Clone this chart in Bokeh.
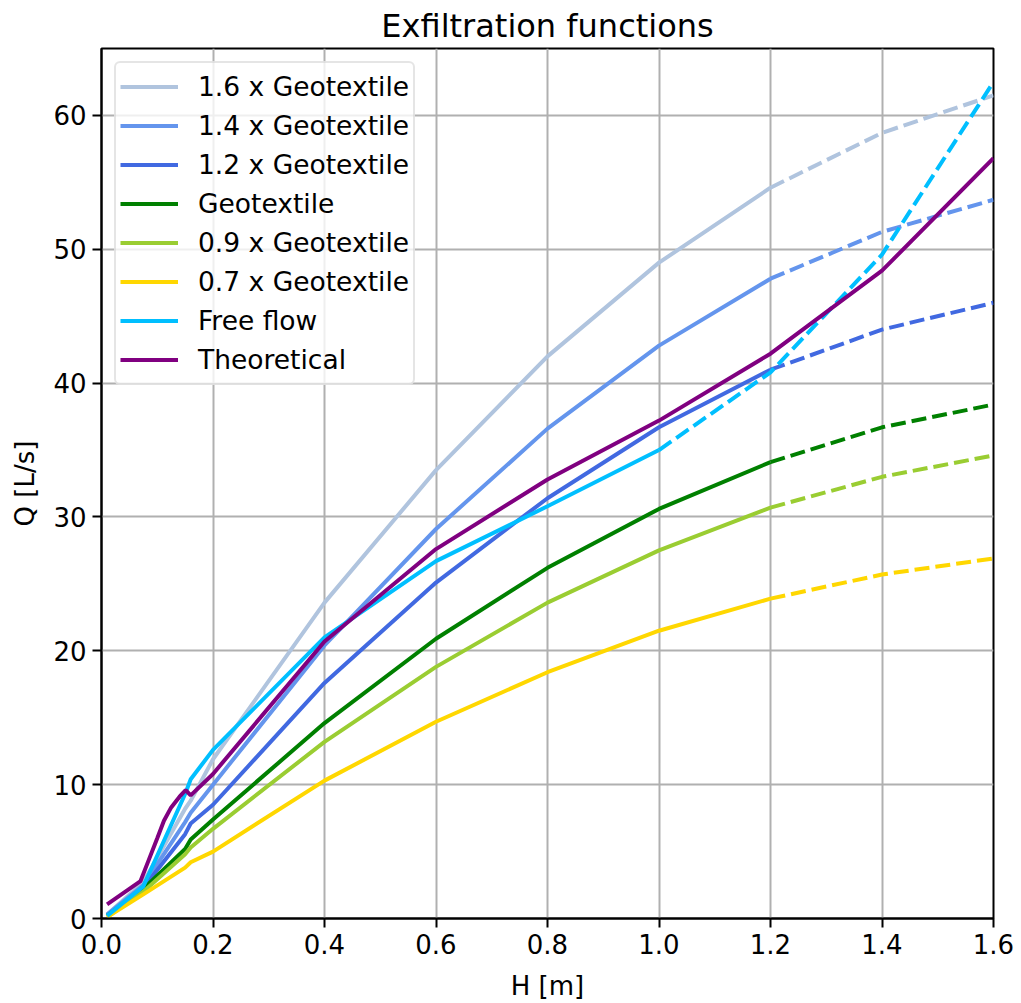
from bokeh.plotting import figure
from bokeh.models import Legend, LegendItem, FixedTicker, NumeralTickFormatter, Range1d
from bokeh.embed import file_html
from bokeh.resources import INLINE

# ---- data ----
H_meas = [0.01, 0.075, 0.15, 0.16, 0.2, 0.4, 0.6, 0.8, 1.0, 1.2, 1.4, 1.6]

Q_geo_1_6 = [0.3, 2.7, 8.2, 8.8, 11.9, 23.6, 33.5, 42.0, 49.0, 54.6, 58.7, 61.5]
Q_geo_1_4 = [0.3, 2.5, 7.2, 7.9, 10.0, 20.4, 29.1, 36.6, 42.8, 47.8, 51.3, 53.7]
Q_geo_1_2 = [0.2, 2.3, 6.3, 7.1, 8.5, 17.6, 25.1, 31.4, 36.7, 41.0, 44.0, 46.0]
Q_geo_1_0 = [0.2, 2.2, 5.2, 5.9, 7.4, 14.6, 20.9, 26.2, 30.6, 34.1, 36.7, 38.4]
Q_geo_0_9 = [0.1, 2.0, 4.8, 5.3, 6.7, 13.2, 18.8, 23.6, 27.5, 30.7, 33.0, 34.6]
Q_geo_0_7 = [0.1, 1.8, 3.8, 4.2, 5.0, 10.3, 14.7, 18.4, 21.5, 23.9, 25.7, 26.9]
Q_free = [0.2, 2.4, 9.3, 10.4, 12.6, 21.0, 26.7, 30.8, 35.0, 40.8, 49.6, 62.5]

H_theo = [0.01, 0.07, 0.085, 0.1, 0.112, 0.125, 0.14, 0.151, 0.16, 0.2,
          0.4, 0.6, 0.8, 1.0, 1.2, 1.4, 1.6]
Q_theo = [1.05, 2.8, 4.4, 6.0, 7.3, 8.3, 9.1, 9.6, 9.2, 10.8,
          20.7, 27.6, 32.8, 37.2, 42.2, 48.4, 56.8]

# last measured H of each series; beyond it the line is dashed
geo_last_solid = 1.2
free_last_solid = 1.0

series = [
    ("1.6 x Geotextile", Q_geo_1_6, "#B0C4DE", geo_last_solid),
    ("1.4 x Geotextile", Q_geo_1_4, "#6495ED", geo_last_solid),
    ("1.2 x Geotextile", Q_geo_1_2, "#4169E1", geo_last_solid),
    ("Geotextile", Q_geo_1_0, "#008000", geo_last_solid),
    ("0.9 x Geotextile", Q_geo_0_9, "#9ACD32", geo_last_solid),
    ("0.7 x Geotextile", Q_geo_0_7, "#FFD700", geo_last_solid),
    ("Free flow", Q_free, "#00BFFF", free_last_solid),
]

FONT = "DejaVu Sans"
LW = 4

p = figure(width=1021, height=1003, output_backend="svg", toolbar_location=None,
           x_range=Range1d(0, 1.6), y_range=Range1d(0, 65),
           title="Exfiltration functions",
           min_border_left=101, min_border_right=28, min_border_top=48, min_border_bottom=85)

p.title.text_font = FONT
p.title.text_font_size = "32px"
p.title.text_font_style = "normal"
p.title.align = "center"
p.title.text_color = "black"
p.title.standoff = 8

items = []
for name, q, color, cut in series:
    k = H_meas.index(cut)
    r = p.line(H_meas[:k + 1], q[:k + 1], line_color=color, line_width=LW)
    p.line(H_meas[k:], q[k:], line_color=color, line_width=LW, line_dash="15 6")
    items.append(LegendItem(label=name, renderers=[r]))

rt = p.line(H_theo, Q_theo, line_color="#800080", line_width=LW)
items.append(LegendItem(label="Theoretical", renderers=[rt]))

legend = Legend(items=items, location="top_left")
legend.label_text_font = FONT
legend.label_text_font_size = "26.5px"
legend.label_text_color = "black"
legend.glyph_width = 58
legend.glyph_height = 39
legend.label_height = 39
legend.label_standoff = 20
legend.spacing = 0
legend.padding = 4
legend.margin = 13
legend.border_line_color = "#cccccc"
legend.border_line_width = 2
legend.border_radius = 6
legend.background_fill_alpha = 0.8
p.add_layout(legend)

# axes
p.xaxis.ticker = FixedTicker(ticks=[0, 0.2, 0.4, 0.6, 0.8, 1.0, 1.2, 1.4, 1.6])
p.xaxis.formatter = NumeralTickFormatter(format="0.0")
p.yaxis.ticker = FixedTicker(ticks=[0, 10, 20, 30, 40, 50, 60])
p.xaxis.axis_label = "H [m]"
p.yaxis.axis_label = "Q [L/s]"
for ax in (p.xaxis, p.yaxis):
    ax.axis_label_text_font = FONT
    ax.axis_label_text_font_size = "26px"
    ax.axis_label_text_font_style = "normal"
    ax.axis_label_text_color = "black"
    ax.major_label_text_font = FONT
    ax.major_label_text_font_size = "26px"
    ax.major_label_text_color = "black"
    ax.axis_line_color = "black"
    ax.axis_line_width = 2
    ax.major_tick_line_color = "black"
    ax.major_tick_line_width = 2
    ax.major_tick_out = 9
    ax.major_tick_in = 0
    ax.minor_tick_line_color = None
p.xaxis.major_label_standoff = 6
p.yaxis.major_label_standoff = 6
p.xaxis.axis_label_standoff = 14
p.yaxis.axis_label_standoff = 10

p.xgrid.grid_line_color = "#b0b0b0"
p.ygrid.grid_line_color = "#b0b0b0"
p.xgrid.grid_line_width = 2
p.ygrid.grid_line_width = 2

p.outline_line_color = "black"
p.outline_line_width = 2
p.outline_line_alpha = 1

open("out.html", "w").write(file_html(p, INLINE))
